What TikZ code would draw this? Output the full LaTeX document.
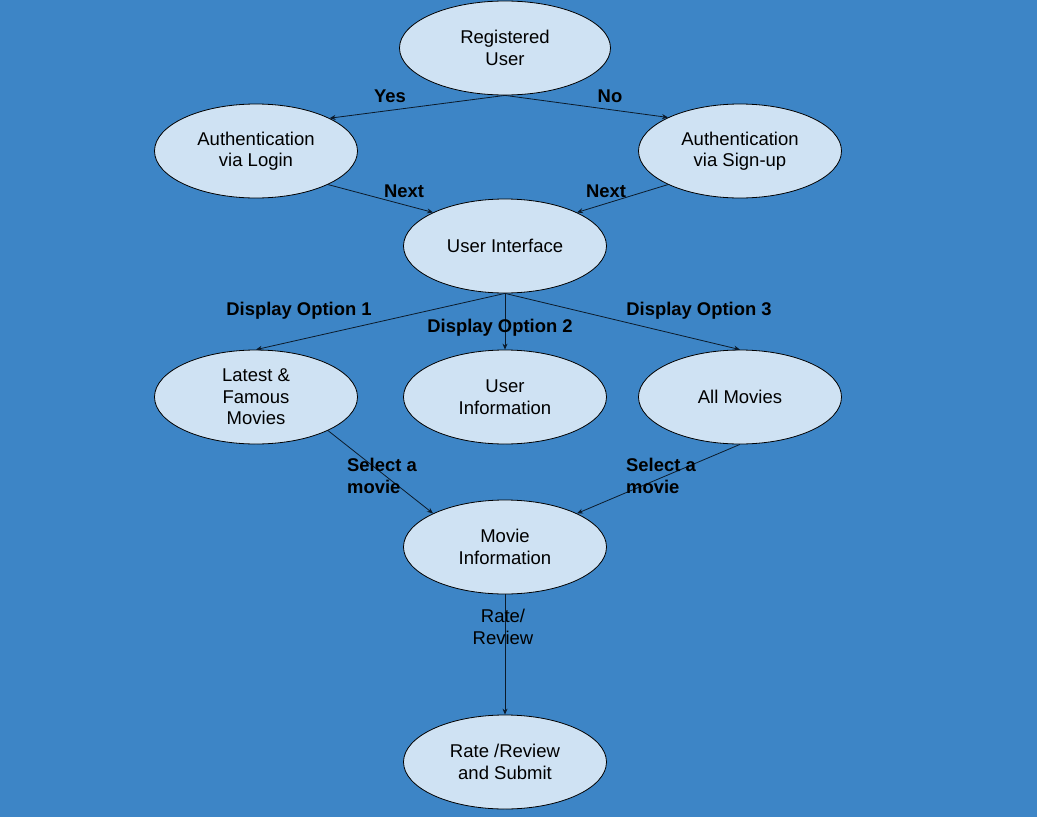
\documentclass[tikz,border=0pt]{standalone}
\usepackage{fontspec}
\setmainfont{Liberation Sans}
\usetikzlibrary{shapes.geometric,arrows.meta}
\definecolor{bgblue}{HTML}{3D85C6}
\definecolor{nodefill}{HTML}{CFE2F3}
\definecolor{edgecol}{HTML}{0B1A2A}
\begin{document}
\begin{tikzpicture}[x=1pt,y=-1pt,
  state/.style={ellipse,draw=black,line width=0.8pt,fill=nodefill,inner sep=0pt,
    minimum width=203pt,minimum height=94pt,align=center,
    font=\fontsize{18.5}{21.5}\selectfont},
  conn/.style={draw=edgecol,line width=0.8pt,-{Stealth[length=6pt,width=5pt]}},
  lab/.style={inner sep=0pt,align=center,font=\fontsize{18.4}{21.5}\selectfont\bfseries,text=black},
  plainlab/.style={inner sep=0pt,align=center,font=\fontsize{18.5}{21.5}\selectfont,text=black}]
\fill[bgblue] (0,0) rectangle (1037,817);
\useasboundingbox (0,0) rectangle (1037,817);

\node[state,minimum width=211pt] (reg) at (505,48) {Registered\\User};
\node[state] (login) at (256,151) {Authentication\\via Login};
\node[state] (signup) at (740,151) {Authentication\\via Sign-up};
\node[state] (ui) at (505,246) {User Interface};
\node[state] (latest) at (256,397) {Latest \&\\Famous\\Movies};
\node[state] (uinfo) at (505,397) {User\\Information};
\node[state] (all) at (740,397) {All Movies};
\node[state] (minfo) at (505,547) {Movie\\Information};
\node[state] (rate) at (505,762) {Rate /Review\\and Submit};

\draw[conn] (reg.south) -- (login.24);
\draw[conn] (reg.south) -- (signup.155);
\draw[conn] (login.-25) -- (ui.155);
\draw[conn] (signup.205) -- (ui.25);
\draw[conn] (ui.south) -- (latest.north);
\draw[conn] (ui.south) -- (uinfo.north);
\draw[conn] (ui.south) -- (all.north);
\draw[conn] (latest.-25) -- (minfo.155);
\draw[conn] (all.south) -- (minfo.25);
\draw[conn] (minfo.south) -- (rate.north);

\node[lab] (lyes) at (390,96) {Yes};
\node[lab] (lno) at (610,96) {No};
\node[lab] (lnext1) at (404,191) {Next};
\node[lab] (lnext2) at (606,191) {Next};
\node[lab] (lopt1) at (299,311) {Display Option 1};
\node[lab] (lopt2) at (500,328) {Display Option 2};
\node[lab] (lopt3) at (699,311) {Display Option 3};
\node[lab,anchor=west,align=left] (lsel1) at (347,476) {Select a\\movie};
\node[lab,anchor=west,align=left] (lsel2) at (626,476) {Select a\\movie};
\node[plainlab] (lrate) at (503,627) {Rate/\\Review};
\end{tikzpicture}
\end{document}
